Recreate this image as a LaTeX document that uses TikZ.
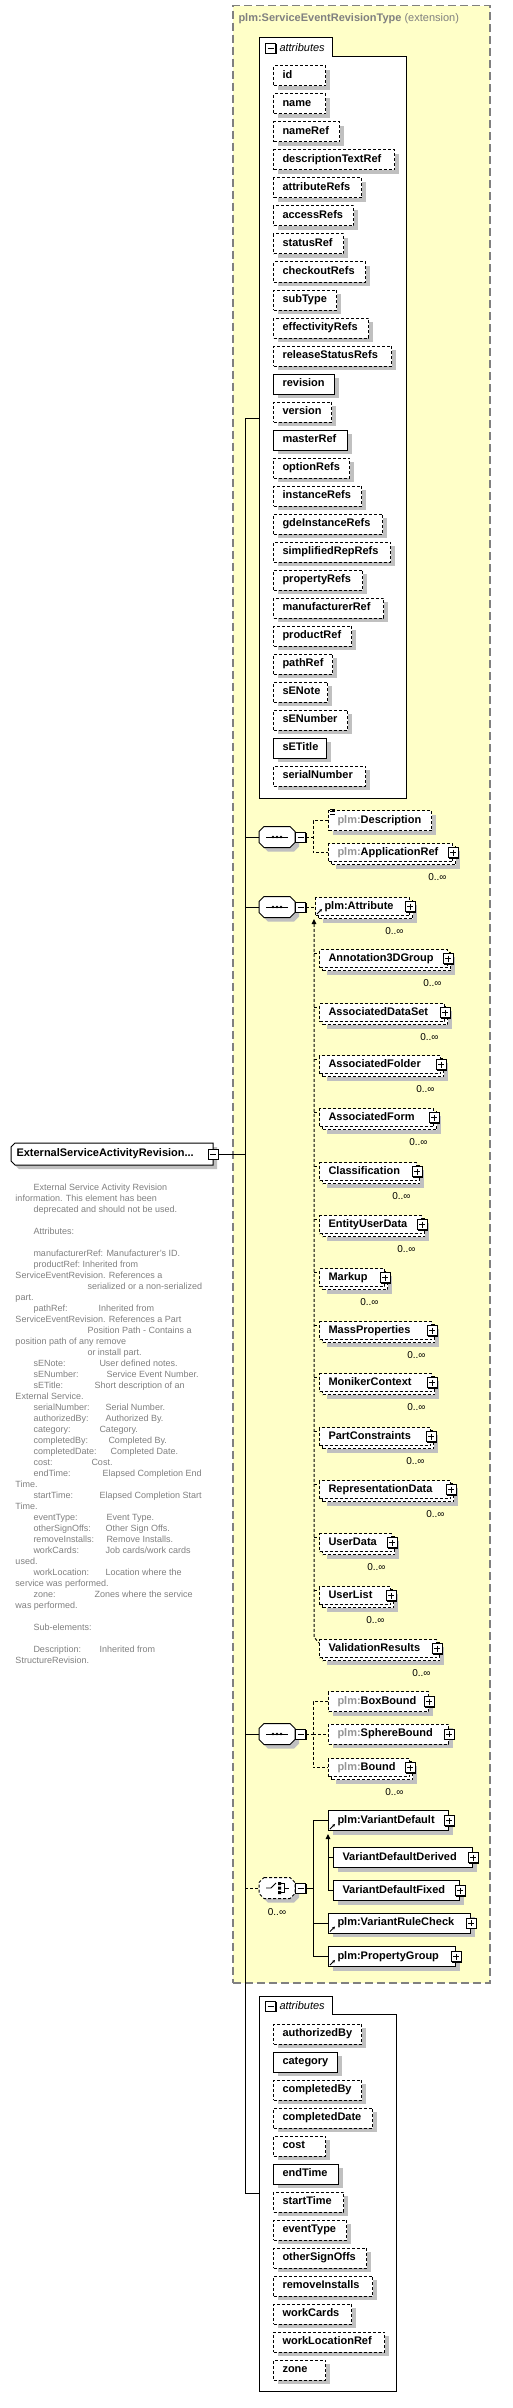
\documentclass[tikz,border=0pt]{standalone}
\usepackage{fontspec}
\setmainfont{Liberation Sans}
\usetikzlibrary{arrows.meta}
\definecolor{ylw}{RGB}{255,255,200}
\definecolor{framegray}{RGB}{128,128,128}
\definecolor{shd}{RGB}{192,192,192}
\definecolor{pfx}{RGB}{150,150,150}
\definecolor{dtext}{RGB}{128,128,128}
\newcommand\pf{\textcolor{pfx}{plm:}}
\newcommand\octa[2]{([shift={(#2,0)}]#1.north west) -- ([shift={(-#2,0)}]#1.north east) -- ([shift={(0,#2)}]#1.north east) -- ([shift={(0,-#2)}]#1.south east) -- ([shift={(-#2,0)}]#1.south east) -- ([shift={(#2,0)}]#1.south west) -- ([shift={(0,-#2)}]#1.south west) -- ([shift={(0,#2)}]#1.north west) -- cycle}
\newcommand\lefto[2]{([shift={(#2,0)}]#1.north west) -- (#1.north east) -- (#1.south east) -- ([shift={(#2,0)}]#1.south west) -- ([shift={(0,-#2)}]#1.south west) -- ([shift={(0,#2)}]#1.north west) -- cycle}
\tikzset{
  sh/.style={preaction={draw=none,fill=shd,transform canvas={xshift=4pt,yshift=-4pt}}},
  opt/.style={dash pattern=on 3pt off 2pt},
  bs/.code={\ifnum#1=1 \tikzset{opt}\fi},
  ebox/.style={rectangle,draw,fill=white,inner xsep=9pt,inner ysep=0pt,minimum height=20pt,text height=8pt,text depth=2.5pt,font=\bfseries\fontsize{11}{13}\selectfont},
  pbox/.style={rectangle,draw,fill=white,minimum size=10pt,inner sep=0pt,solid,
    preaction={fill=black,transform canvas={xshift=1pt,yshift=-1pt}},
    path picture={\draw[line width=1pt] ([xshift=2pt]path picture bounding box.west) -- ([xshift=-2pt]path picture bounding box.east) ([yshift=-2pt]path picture bounding box.north) -- ([yshift=2pt]path picture bounding box.south);}},
  mbox/.style={rectangle,draw,fill=white,minimum size=10pt,inner sep=0pt,solid,
    preaction={fill=black,transform canvas={xshift=1pt,yshift=-1pt}},
    path picture={\draw[line width=1pt] ([xshift=2pt]path picture bounding box.west) -- ([xshift=-2pt]path picture bounding box.east);}},
  mult/.style={font=\fontsize{10}{12}\selectfont,inner sep=0pt},
  dsc/.style={font=\fontsize{9}{11}\selectfont,text=dtext,inner sep=0pt,anchor=base west},
  refarrow/.style={line width=0.9pt,arrows={-Stealth[length=3pt,width=3pt]}},
  subtip/.style={arrows={Triangle[width=4.5pt,length=5pt]-}},
  cmp/.style={minimum width=35pt,minimum height=20pt,inner sep=0pt,anchor=west},
}
% stacked (0..unbounded) element: name, x0, ytop, xright, text
\newcommand\stkbox[5]{%
  \pgfmathsetmacro\bw{#4-#2-3}%
  \pgfmathsetmacro\tw{#4-#2-21}%
  \node[ebox,opt,sh,minimum width=\bw pt,minimum height=18pt,anchor=north west] (#1b) at (#2+3,#3+3) {};
  \node[ebox,opt,minimum height=18pt,anchor=north west] (#1) at (#2,#3) {\makebox[\tw pt][l]{#5}};
  \node[pbox] (#1p) at (#1.east) {};
  \node[mult,anchor=east] (#1n) at (#4-8,#3+34) {0..∞};
}
% single element: name, style, x0, ycenter, xright, text
\newcommand\elbox[6]{%
  \pgfmathsetmacro\tw{#5-#3-18}%
  \node[ebox,#2,anchor=west] (#1) at (#3,#4) {\makebox[\tw pt][l]{#6}};
}
\newcommand\seqdraw[1]{%
  \fill[shd,transform canvas={xshift=4pt,yshift=-4pt}] \octa{#1}{5};
  \draw[fill=white] \octa{#1}{5};
  \draw ([shift={(7,0)}]#1.west) -- ([shift={(-7,0)}]#1.east);
  \fill ([shift={(-4,0)}]#1.center) circle (1.4pt) (#1.center) circle (1.4pt) ([shift={(4,0)}]#1.center) circle (1.4pt);
}
\begin{document}
\begin{tikzpicture}[x=1pt,y=-1pt,line width=1pt]
\useasboundingbox (0,0) rectangle (513,2408);
\fill[white] (0,0) rectangle (513,2408);
% extension container
\node[draw=framegray,line width=1.5pt,dash pattern=on 8pt off 4pt,fill=ylw,minimum width=257pt,minimum height=1977pt,anchor=north west,inner sep=0pt] (ext) at (232,5) {};
\node[anchor=west,inner sep=0pt,font=\fontsize{11}{13}\selectfont,text=framegray] (title) at (238,19) {\textbf{plm:ServiceEventRevisionType} (extension)};

% attributes A
\node[minimum width=146pt,minimum height=759pt,inner sep=0pt,anchor=north west] (attrA) at (259,38) {};
\draw[fill=white] (attrA.south west) -- (attrA.north west) -- ([shift={(73,0)}]attrA.north west) -- ([shift={(73,19)}]attrA.north west) -- ([shift={(0,19)}]attrA.north east) -- (attrA.south east) -- cycle;
\node[mbox] (attrAm) at ([shift={(11.5,10.5)}]attrA.north west) {};
\node[anchor=west,inner sep=0pt,font=\itshape\fontsize{11}{13}\selectfont] (attrAt) at ([shift={(20,10)}]attrA.north west) {attributes};
\foreach \i/\nm/\r/\st in {0/id/325/1, 1/name/325/1, 2/nameRef/339/1, 3/descriptionTextRef/394/1, 4/attributeRefs/361/1, 5/accessRefs/353/1, 6/statusRef/343/1, 7/checkoutRefs/365/1, 8/subType/336/1, 9/effectivityRefs/368/1, 10/releaseStatusRefs/391/1, 11/revision/334/0, 12/version/331/1, 13/masterRef/347/0, 14/optionRefs/349/1, 15/instanceRefs/361/1, 16/gdeInstanceRefs/382/1, 17/simplifiedRepRefs/390/1, 18/propertyRefs/362/1, 19/manufacturerRef/383/1, 20/productRef/351/1, 21/pathRef/332/1, 22/sENote/327/1, 23/sENumber/347/1, 24/sETitle/326/0, 25/serialNumber/365/1}{
  \pgfmathsetmacro\tw{\r-291}
  \node[ebox,sh,bs=\st,anchor=west] (a\i) at (273,76+28*\i) {\makebox[\tw pt][l]{\nm}};
}

% attributes B
\node[minimum width=136pt,minimum height=394pt,inner sep=0pt,anchor=north west] (attrB) at (259,1996) {};
\draw[fill=white] (attrB.south west) -- (attrB.north west) -- ([shift={(73,0)}]attrB.north west) -- ([shift={(73,18)}]attrB.north west) -- ([shift={(0,18)}]attrB.north east) -- (attrB.south east) -- cycle;
\node[mbox] (attrBm) at ([shift={(11.5,10)}]attrB.north west) {};
\node[anchor=west,inner sep=0pt,font=\itshape\fontsize{11}{13}\selectfont] (attrBt) at ([shift={(20,10)}]attrB.north west) {attributes};
\foreach \i/\nm/\r/\st in {0/authorizedBy/361/1, 1/category/337/0, 2/completedBy/361/1, 3/completedDate/372/1, 4/cost/325/1, 5/endTime/338/0, 6/startTime/343/1, 7/eventType/346/1, 8/otherSignOffs/366/1, 9/removeInstalls/372/1, 10/workCards/351/1, 11/workLocationRef/384/1, 12/zone/325/1}{
  \pgfmathsetmacro\tw{\r-291}
  \node[ebox,sh,bs=\st,anchor=west] (b\i) at (273,2034+28*\i) {\makebox[\tw pt][l]{\nm}};
}

% main element
\node[minimum width=201pt,minimum height=21pt,inner sep=0pt,anchor=north west] (main) at (11,1143) {};
\fill[shd,transform canvas={xshift=4pt,yshift=-4pt}] \lefto{main}{4};
\draw[fill=white] \lefto{main}{4};
\node[anchor=west,inner sep=0pt,font=\bfseries\fontsize{11}{13}\selectfont] (mainT) at ([xshift=5pt]main.west) {ExternalServiceActivityRevision...};
\node[mbox] (mainm) at (main.east) {};

% sequence 1
\node[cmp] (s1) at (259,837) {};
\seqdraw{s1}
\node[mbox] (s1m) at ([xshift=5.5pt]s1.east) {};
\elbox{desc}{opt,sh}{328}{820.5}{431}{\pf Description}
\draw[line width=0.6pt] ([shift={(2,-1)}]desc.north west) -- ([shift={(7,-1)}]desc.north west)
  ([shift={(2,1.5)}]desc.north west) -- ([shift={(7,1.5)}]desc.north west)
  ([shift={(2,4)}]desc.north west) -- ([shift={(7,4)}]desc.north west);
\stkbox{appref}{328}{843}{455}{\pf ApplicationRef}

% sequence 2
\node[cmp] (s2) at (259,907) {};
\seqdraw{s2}
\node[mbox] (s2m) at ([xshift=5.5pt]s2.east) {};
\stkbox{attr}{315}{897}{412}{plm:Attribute}
\draw[refarrow] ([shift={(2,-2)}]attr.south west) -- ([shift={(7,-7)}]attr.south west);
\foreach \k/\yy/\rr/\nm in {1/949/450/Annotation3DGroup, 2/1003/447/AssociatedDataSet, 3/1055/443/AssociatedFolder, 4/1108/436/AssociatedForm, 5/1162/419/Classification, 6/1215/424/EntityUserData, 7/1268/387/Markup, 8/1321/434/MassProperties, 9/1373/434/MonikerContext, 10/1427/433/PartConstraints, 11/1480/453/RepresentationData, 12/1533/394/UserData, 13/1586/393/UserList, 14/1639/439/ValidationResults}{
  \stkbox{m\k}{319}{\yy}{\rr}{\nm}
}

% sequence 3
\node[cmp] (s3) at (259,1734) {};
\seqdraw{s3}
\node[mbox] (s3m) at ([xshift=5.5pt]s3.east) {};
\elbox{boxb}{opt,sh}{328}{1701.5}{428}{\pf BoxBound}
\node[pbox] (boxbp) at (boxb.east) {};
\elbox{sphb}{opt,sh}{328}{1734}{448}{\pf SphereBound}
\node[pbox] (sphbp) at (sphb.east) {};
\stkbox{bound}{328}{1758}{412}{\pf Bound}

% choice
\node[cmp] (ch) at (259,1888) {};
\fill[shd,transform canvas={xshift=4pt,yshift=-4pt}] \octa{ch}{5};
\draw[fill=white,opt] \octa{ch}{5};
\draw[line width=0.9pt] ([shift={(-11,0)}]ch.center) -- ([shift={(-6,0)}]ch.center) -- ([shift={(-1,-5)}]ch.center);
\fill ([shift={(1,-6)}]ch.center) rectangle ([shift={(4,-3)}]ch.center)
      ([shift={(1,-1.5)}]ch.center) rectangle ([shift={(4,1.5)}]ch.center)
      ([shift={(1,3)}]ch.center) rectangle ([shift={(4,6)}]ch.center);
\draw[line width=0.9pt] ([shift={(4,-4.5)}]ch.center) -- ([shift={(7,-4.5)}]ch.center) -- ([shift={(7,4.5)}]ch.center) -- ([shift={(4,4.5)}]ch.center)
      ([shift={(7,0)}]ch.center) -- ([shift={(12,0)}]ch.center);
\node[mbox] (chm) at ([xshift=5.5pt]ch.east) {};
\node[mult] (chn) at (277,1912) {0..∞};
\elbox{vdef}{sh}{328}{1820.5}{448}{plm:VariantDefault}
\node[pbox] (vdefp) at (vdef.east) {};
\draw[refarrow] ([shift={(2,-2)}]vdef.south west) -- ([shift={(7,-7)}]vdef.south west);
\elbox{vdd}{sh}{333}{1857.5}{472}{VariantDefaultDerived}
\node[pbox] (vddp) at (vdd.east) {};
\elbox{vdf}{sh}{333}{1890.5}{459}{VariantDefaultFixed}
\node[pbox] (vdfp) at (vdf.east) {};
\elbox{vrc}{sh}{328}{1923}{470}{plm:VariantRuleCheck}
\node[pbox] (vrcp) at (vrc.east) {};
\draw[refarrow] ([shift={(2,-2)}]vrc.south west) -- ([shift={(7,-7)}]vrc.south west);
\elbox{pgrp}{sh}{328}{1956.5}{455}{plm:PropertyGroup}
\node[pbox] (pgrpp) at (pgrp.east) {};
\draw[refarrow] ([shift={(2,-2)}]pgrp.south west) -- ([shift={(7,-7)}]pgrp.south west);

% connectors
\coordinate (trunk) at (245,0);
\coordinate (br) at (313,0);
\draw (attrA.west) -- (attrA.west -| trunk) -- (attrB.west -| trunk) -- (attrB.west);
\draw (mainm.east) -- (mainm.east -| trunk);
\draw (s1.west -| trunk) -- (s1.west);
\draw (s2.west -| trunk) -- (s2.west);
\draw (s3.west -| trunk) -- (s3.west);
\draw[opt] (ch.west -| trunk) -- (ch.west);
\draw[opt] (s1m.east) -- (s1m.east -| br);
\draw[opt] (desc.west) -- (desc.west -| br) -- (appref.west -| br) -- (appref.west);
\draw[opt] (s2m.east) -- (s2m.east -| attr.west);
\draw[opt,subtip] ([shift={(-1,3)}]attr.south west) -- ([shift={(-5,-2)}]m14.north west) -- ([shift={(0,4)}]m14.north west);
\foreach \k in {1,...,13}{
  \draw[opt] ([shift={(-5,4)}]m\k.north west) -- ([shift={(0,4)}]m\k.north west);
}
\draw[opt] (s3m.east) -- (s3m.east -| br);
\draw[opt] (boxb.west) -- (boxb.west -| br) -- (bound.west -| br) -- (bound.west);
\draw[opt] (sphb.west -| br) -- (sphb.west);
\draw (chm.east) -- (chm.east -| br);
\draw (vdef.west) -- (vdef.west -| br) -- (pgrp.west -| br) -- (pgrp.west);
\draw (vrc.west -| br) -- (vrc.west);
\draw[subtip] ([shift={(0,3)}]vdef.south west) -- (vdf.west -| vdef.west) -- (vdf.west);
\draw (vdd.west -| vdef.west) -- (vdd.west);

% documentation text
\node[dsc] (d1) at (33,1190) {External Service Activity Revision};
\node[dsc] (d2) at (15,1201) {information. This element has been};
\node[dsc] (d3) at (33,1212) {deprecated and should not be used.};
\node[dsc] (d4) at (33,1234) {Attributes:};
\node[dsc] (d5) at (33,1256) {manufacturerRef:};
\node[dsc] (d5b) at (106,1256) {Manufacturer's ID.};
\node[dsc] (d6) at (33,1267) {productRef:};
\node[dsc] (d6b) at (82,1267) {Inherited from};
\node[dsc] (d7) at (15,1278) {ServiceEventRevision. References a};
\node[dsc] (d8) at (87,1289) {serialized or a non-serialized};
\node[dsc] (d9) at (15,1300) {part.};
\node[dsc] (d10) at (33,1311) {pathRef:};
\node[dsc] (d10b) at (98,1311) {Inherited from};
\node[dsc] (d11) at (15,1322) {ServiceEventRevision. References a Part};
\node[dsc] (d12) at (87,1333) {Position Path - Contains a};
\node[dsc] (d13) at (15,1344) {position path of any remove};
\node[dsc] (d14) at (87,1355) {or install part.};
\node[dsc] (d15) at (33,1366) {sENote:};
\node[dsc] (d15b) at (99,1366) {User defined notes.};
\node[dsc] (d16) at (33,1377) {sENumber:};
\node[dsc] (d16b) at (106,1377) {Service Event Number.};
\node[dsc] (d17) at (33,1388) {sETitle:};
\node[dsc] (d17b) at (94,1388) {Short description of an};
\node[dsc] (d18) at (15,1399) {External Service.};
\node[dsc] (d19) at (33,1410) {serialNumber:};
\node[dsc] (d19b) at (105,1410) {Serial Number.};
\node[dsc] (d20) at (33,1421) {authorizedBy:};
\node[dsc] (d20b) at (105,1421) {Authorized By.};
\node[dsc] (d21) at (33,1432) {category:};
\node[dsc] (d21b) at (99,1432) {Category.};
\node[dsc] (d22) at (33,1443) {completedBy:};
\node[dsc] (d22b) at (108,1443) {Completed By.};
\node[dsc] (d23) at (33,1454) {completedDate:};
\node[dsc] (d23b) at (110,1454) {Completed Date.};
\node[dsc] (d24) at (33,1465) {cost:};
\node[dsc] (d24b) at (91,1465) {Cost.};
\node[dsc] (d25) at (33,1476) {endTime:};
\node[dsc] (d25b) at (102,1476) {Elapsed Completion End};
\node[dsc] (d26) at (15,1487) {Time.};
\node[dsc] (d27) at (33,1498) {startTime:};
\node[dsc] (d27b) at (99,1498) {Elapsed Completion Start};
\node[dsc] (d28) at (15,1509) {Time.};
\node[dsc] (d29) at (33,1520) {eventType:};
\node[dsc] (d29b) at (106,1520) {Event Type.};
\node[dsc] (d30) at (33,1531) {otherSignOffs:};
\node[dsc] (d30b) at (105,1531) {Other Sign Offs.};
\node[dsc] (d31) at (33,1542) {removeInstalls:};
\node[dsc] (d31b) at (106,1542) {Remove Installs.};
\node[dsc] (d32) at (33,1553) {workCards:};
\node[dsc] (d32b) at (105,1553) {Job cards/work cards};
\node[dsc] (d33) at (15,1564) {used.};
\node[dsc] (d34) at (33,1575) {workLocation:};
\node[dsc] (d34b) at (105,1575) {Location where the};
\node[dsc] (d35) at (15,1586) {service was performed.};
\node[dsc] (d36) at (33,1597) {zone:};
\node[dsc] (d36b) at (94,1597) {Zones where the service};
\node[dsc] (d37) at (15,1608) {was performed.};
\node[dsc] (d38) at (33,1630) {Sub-elements:};
\node[dsc] (d39) at (33,1652) {Description:};
\node[dsc] (d39b) at (99,1652) {Inherited from};
\node[dsc] (d40) at (15,1663) {StructureRevision.};
\end{tikzpicture}
\end{document}
